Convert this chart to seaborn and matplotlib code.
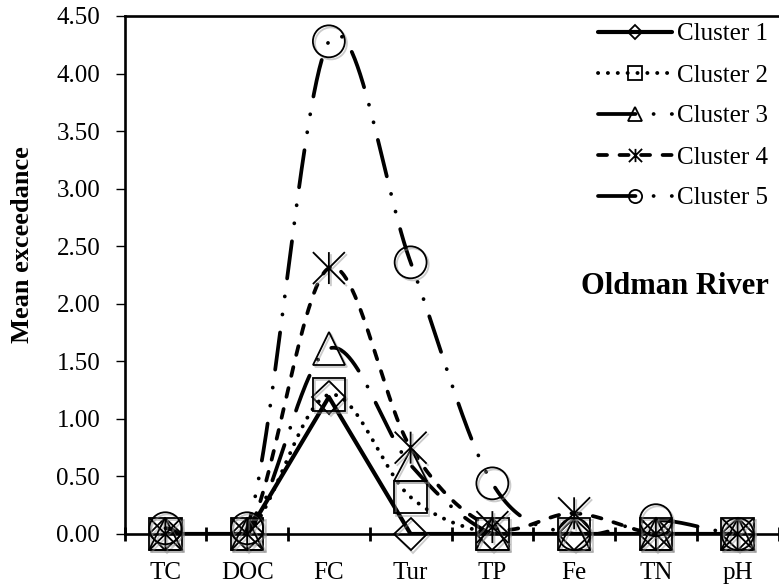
import numpy as np
import pandas as pd
import matplotlib
matplotlib.use("Agg")
import matplotlib.pyplot as plt
import matplotlib.patheffects as pe
from matplotlib.path import Path
from matplotlib.lines import Line2D
import seaborn as sns

# ---- data -------------------------------------------------------------
categories = ["TC", "DOC", "FC", "Tur", "TP", "Fe", "TN", "pH"]
cluster_names = ["Cluster 1", "Cluster 2", "Cluster 3", "Cluster 4", "Cluster 5"]
cluster1 = [0.00, 0.00, 1.19, 0.00, 0.00, 0.00, 0.00, 0.00]
cluster2 = [0.00, 0.00, 1.21, 0.32, 0.00, 0.00, 0.00, 0.00]
cluster3 = [0.00, 0.00, 1.61, 0.60, 0.00, 0.00, 0.00, 0.00]
cluster4 = [0.00, 0.00, 2.31, 0.75, 0.06, 0.18, 0.00, 0.00]
cluster5 = [0.05, 0.05, 4.28, 2.36, 0.44, 0.00, 0.12, 0.00]
yticks = [0.0, 0.5, 1.0, 1.5, 2.0, 2.5, 3.0, 3.5, 4.0, 4.5]

series = [cluster1, cluster2, cluster3, cluster4, cluster5]

# ---- styling ----------------------------------------------------------
sns.set_theme(style="white")
plt.rcParams["font.family"] = ["Liberation Serif", "DejaVu Serif"]
plt.rcParams["lines.scale_dashes"] = False
for key in ["text.color", "axes.labelcolor", "xtick.color", "ytick.color",
            "axes.edgecolor"]:
    plt.rcParams[key] = "black"

# Excel-like star marker: an X with a vertical bar
star = Path([(-1, -1), (1, 1), (-1, 1), (1, -1), (0, -1), (0, 1)],
            [Path.MOVETO, Path.LINETO, Path.MOVETO, Path.LINETO, Path.MOVETO, Path.LINETO])

markers = ["D", "s", "^", star, "o"]
msizes = [16.8, 23.5, 23.5, 23.0, 23.0]
dash_patterns = [None, (0.1, 7.0), (27, 13, 0.1, 13), (6.5, 9.0),
                 (27, 13, 0.1, 13, 0.1, 13)]
smooth = [False, True, True, True, True]
lws = [3.0, 2.8, 2.7, 2.7, 2.7]


def catmull_rom(y, n=60):
    """Excel-style smoothed line through equally spaced points."""
    y = np.asarray(y, float)
    k = len(y)
    m = np.zeros(k)
    m[1:-1] = (y[2:] - y[:-2]) / 2.0
    m[0] = (y[1] - y[0]) / 2.0
    m[-1] = (y[-1] - y[-2]) / 2.0
    xs, ys = [], []
    t = np.linspace(0, 1, n, endpoint=False)
    h00 = 2 * t**3 - 3 * t**2 + 1
    h10 = t**3 - 2 * t**2 + t
    h01 = -2 * t**3 + 3 * t**2
    h11 = t**3 - t**2
    for i in range(k - 1):
        xs.append(i + t)
        ys.append(h00 * y[i] + h10 * m[i] + h01 * y[i + 1] + h11 * m[i + 1])
    xs.append([k - 1])
    ys.append([y[-1]])
    return np.concatenate(xs), np.concatenate(ys)


W, H = 779, 585
fig = plt.figure(figsize=(W / 100, H / 100), dpi=100)
ax = fig.add_axes([124.5 / W, 1 - 534 / H, (778.5 - 124.5) / W, (534 - 16) / H])

xpos = np.arange(len(categories))
shadow = [pe.SimpleLineShadow(offset=(1.5, -1.5), shadow_color="0.55", alpha=0.45),
          pe.Normal()]

for name, vals, mk, ms, dp, sm, lw in zip(cluster_names, series, markers, msizes,
                                          dash_patterns, smooth, lws):
    if sm:
        cx, cy = catmull_rom(vals)
    else:
        cx, cy = xpos.astype(float), np.asarray(vals, float)
    df = pd.DataFrame({"x": cx, "y": cy})
    sns.lineplot(data=df, x="x", y="y", ax=ax, color="black", linewidth=lw,
                 estimator=None, sort=False, dash_capstyle="round",
                 solid_capstyle="round", zorder=3)
    line = ax.lines[-1]
    if dp is not None:
        line.set_dashes(dp)
    ax.plot(xpos, vals, linestyle="none", marker=mk, ms=ms, mfc="none",
            mec="black", mew=1.3, clip_on=False, zorder=4, path_effects=shadow)

# ---- axes -------------------------------------------------------------
ax.set_xlim(-0.5, len(categories) - 0.5)
ax.set_ylim(0, 4.5)
ax.set_xlabel("")
ax.set_ylabel("Mean exceedance", fontsize=19, fontweight="bold", color="black")
ax.yaxis.set_label_coords(-0.138, 0.558)

ax.set_yticks(yticks)
ax.set_yticklabels([f"{v:.2f}" for v in yticks], fontsize=18)
ax.set_xticks(np.arange(-0.5, len(categories), 1.0))
ax.set_xticklabels([])
ax.set_xticks(xpos, minor=True)
ax.set_xticklabels(categories, minor=True, fontsize=18)

ax.tick_params(axis="y", which="major", direction="out", length=6.5, width=1.0,
               pad=11, color="black", labelcolor="black", left=True)
ax.tick_params(axis="x", which="major", direction="inout", length=10, width=2.0,
               color="black", bottom=True)
ax.tick_params(axis="x", which="minor", length=0, pad=20, bottom=True,
               labelcolor="black")

for side in ["left", "bottom", "top"]:
    ax.spines[side].set_visible(True)
    ax.spines[side].set_color("black")
    ax.spines[side].set_linewidth(1.9)
ax.spines["right"].set_visible(False)
ax.grid(False)

ax.text(0.842, 0.477, "Oldman River", transform=ax.transAxes, ha="center",
        va="center", fontsize=22, fontweight="bold", color="black")

# ---- legend -----------------------------------------------------------
handles = []
leg_ms = [6.8, 9.5, 9.5, 9.5, 9.5]
for name, mk, ms, dp, lw in zip(cluster_names, markers, leg_ms, dash_patterns, lws):
    h = Line2D([], [], color="black", lw=lw, marker=mk, ms=ms, mfc="none",
               mec="black", mew=1.3, dash_capstyle="round")
    if dp is not None:
        h.set_dashes(dp)
    handles.append(h)

leg = fig.legend(handles, cluster_names, loc="upper left",
                 bbox_to_anchor=(598 / W, 1 - 23 / H), frameon=False, fontsize=18,
                 handlelength=2.95, handletextpad=0.2, labelspacing=0.74,
                 borderpad=0, borderaxespad=0)
for t in leg.get_texts():
    t.set_color("black")

fig.savefig("out.png", dpi=100)
